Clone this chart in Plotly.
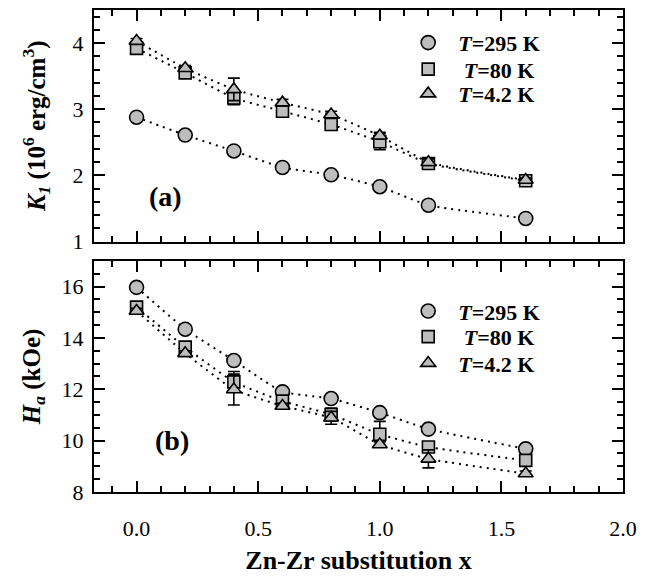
import plotly.graph_objects as go

# ---- data ----
x_sub = [0.0, 0.2, 0.4, 0.6, 0.8, 1.0, 1.2, 1.6]

k1_295 = [2.88, 2.61, 2.37, 2.12, 2.01, 1.83, 1.55, 1.35]
k1_80 = [3.92, 3.55, 3.17, 2.97, 2.77, 2.51, 2.18, 1.92]
k1_42 = [4.03, 3.62, 3.30, 3.10, 2.92, 2.60, 2.20, 1.93]
k1_80_err = [0.07, 0.05, 0.10, 0.05, 0.07, 0.12, 0.06, 0.05]
k1_42_err = [0.04, 0.04, 0.17, 0.05, 0.05, 0.05, 0.05, 0.03]

ha_295 = [15.97, 14.34, 13.12, 11.90, 11.64, 11.09, 10.45, 9.68]
ha_80 = [15.20, 13.64, 12.29, 11.54, 11.02, 10.25, 9.75, 9.23]
ha_42 = [15.05, 13.40, 11.99, 11.35, 10.89, 9.85, 9.29, 8.72]
ha_80_err = [0.12, 0.15, 0.40, 0.18, 0.25, 0.50, 0.15, 0.10]
ha_42_err = [0.10, 0.10, 0.60, 0.10, 0.25, 0.10, 0.35, 0.10]

labels = ["<i>T</i>=295 K", "\u00a0<i>T</i>=80 K", "<i>T</i>=4.2 K"]
symbols = ["circle", "square", "triangle-up"]
sizes = [14, 12, 13]

FONT = "'Liberation Serif', 'Times New Roman', Times, 'DejaVu Serif', serif"
GRAY = "#bdbdbd"

series = [
    ("x", "y", k1_295, None, 0, "legend"),
    ("x", "y", k1_80, k1_80_err, 1, "legend2"),
    ("x", "y", k1_42, k1_42_err, 2, "legend3"),
    ("x2", "y2", ha_295, None, 0, "legend4"),
    ("x2", "y2", ha_80, ha_80_err, 1, "legend5"),
    ("x2", "y2", ha_42, ha_42_err, 2, "legend6"),
]

fig = go.Figure()

# dotted guide curves
for xa, ya, yvals, err, idx, lg in series:
    fig.add_trace(go.Scatter(
        x=x_sub, y=yvals, xaxis=xa, yaxis=ya, mode="lines", showlegend=False,
        hoverinfo="skip",
        line=dict(color="black", width=2, dash="2px,5px", shape="spline", smoothing=0.4),
    ))

# markers with error bars
for xa, ya, yvals, err, idx, lg in series:
    fig.add_trace(go.Scatter(
        x=x_sub, y=yvals, xaxis=xa, yaxis=ya, mode="markers",
        name="<b>" + labels[idx] + "</b>", legend=lg, showlegend=True,
        marker=dict(symbol=symbols[idx], size=sizes[idx], color=GRAY,
                    line=dict(color="black", width=1.6)),
        error_y=(dict(type="data", array=err, visible=True, color="black",
                      thickness=1.6, width=6) if err is not None else None),
    ))

axis_common = dict(
    showline=True, linewidth=2, linecolor="black", mirror="allticks",
    ticks="inside", ticklen=11, tickwidth=1.6, tickcolor="black",
    showgrid=False, zeroline=False,
    tickfont=dict(family=FONT, size=22, color="black"),
)

def legend_at(yfrac):
    return dict(x=0.575, y=yfrac, xanchor="left", yanchor="middle",
                bgcolor="rgba(0,0,0,0)", font=dict(family=FONT, size=22),
                itemwidth=50)

fig.update_layout(
    width=647, height=578,
    margin=dict(l=94, r=24, t=8, b=82),
    paper_bgcolor="white", plot_bgcolor="white",
    font=dict(family=FONT, color="black"),
    showlegend=True,
    xaxis=dict(domain=[0, 1], anchor="y", range=[-0.175, 2.0], tick0=0, dtick=0.5,
               showticklabels=False,
               minor=dict(dtick=0.1, ticklen=6, tickwidth=1.6, ticks="inside", tickcolor="black"),
               **axis_common),
    yaxis=dict(domain=[0.5195, 1], anchor="x", range=[1, 4.5], tick0=0, dtick=1,
               ticklabelstandoff=4,
               minor=dict(dtick=0.2, ticklen=6, tickwidth=1.6, ticks="inside", tickcolor="black"),
               title=dict(text="<b><i>K</i><sub><i>1</i></sub> (10<sup>6</sup> erg/cm<sup>3</sup>)</b>",
                          font=dict(family=FONT, size=25), standoff=20),
               **axis_common),
    xaxis2=dict(domain=[0, 1], anchor="y2", range=[-0.175, 2.0], tick0=0, dtick=0.5,
                tickformat=".1f", ticklabelstandoff=16,
                minor=dict(dtick=0.1, ticklen=6, tickwidth=1.6, ticks="inside", tickcolor="black"),
                title=dict(text="<b>Zn-Zr substitution x</b>",
                           font=dict(family=FONT, size=26), standoff=10),
                **axis_common),
    yaxis2=dict(domain=[0, 0.4795], anchor="x2", range=[8, 17], tick0=0, dtick=2,
                ticklabelstandoff=4,
                minor=dict(dtick=0.5, ticklen=6, tickwidth=1.6, ticks="inside", tickcolor="black"),
                title=dict(text="<b><i>H</i><sub><i>a</i></sub> (kOe)</b>",
                           font=dict(family=FONT, size=25), standoff=14),
                **axis_common),
    legend=legend_at(0.932),
    legend2=legend_at(0.877),
    legend3=legend_at(0.826),
    legend4=legend_at(0.375),
    legend5=legend_at(0.322),
    legend6=legend_at(0.267),
    annotations=[
        dict(text="<b>(a)</b>", x=0.12, y=1.68, xref="x", yref="y", showarrow=False,
             font=dict(family=FONT, size=28)),
        dict(text="<b>(b)</b>", x=0.145, y=10.0, xref="x2", yref="y2", showarrow=False,
             font=dict(family=FONT, size=28)),
    ],
)

fig.write_html("out.html", config={"displayModeBar": False},
               post_script="document.body.style.margin='0';")
